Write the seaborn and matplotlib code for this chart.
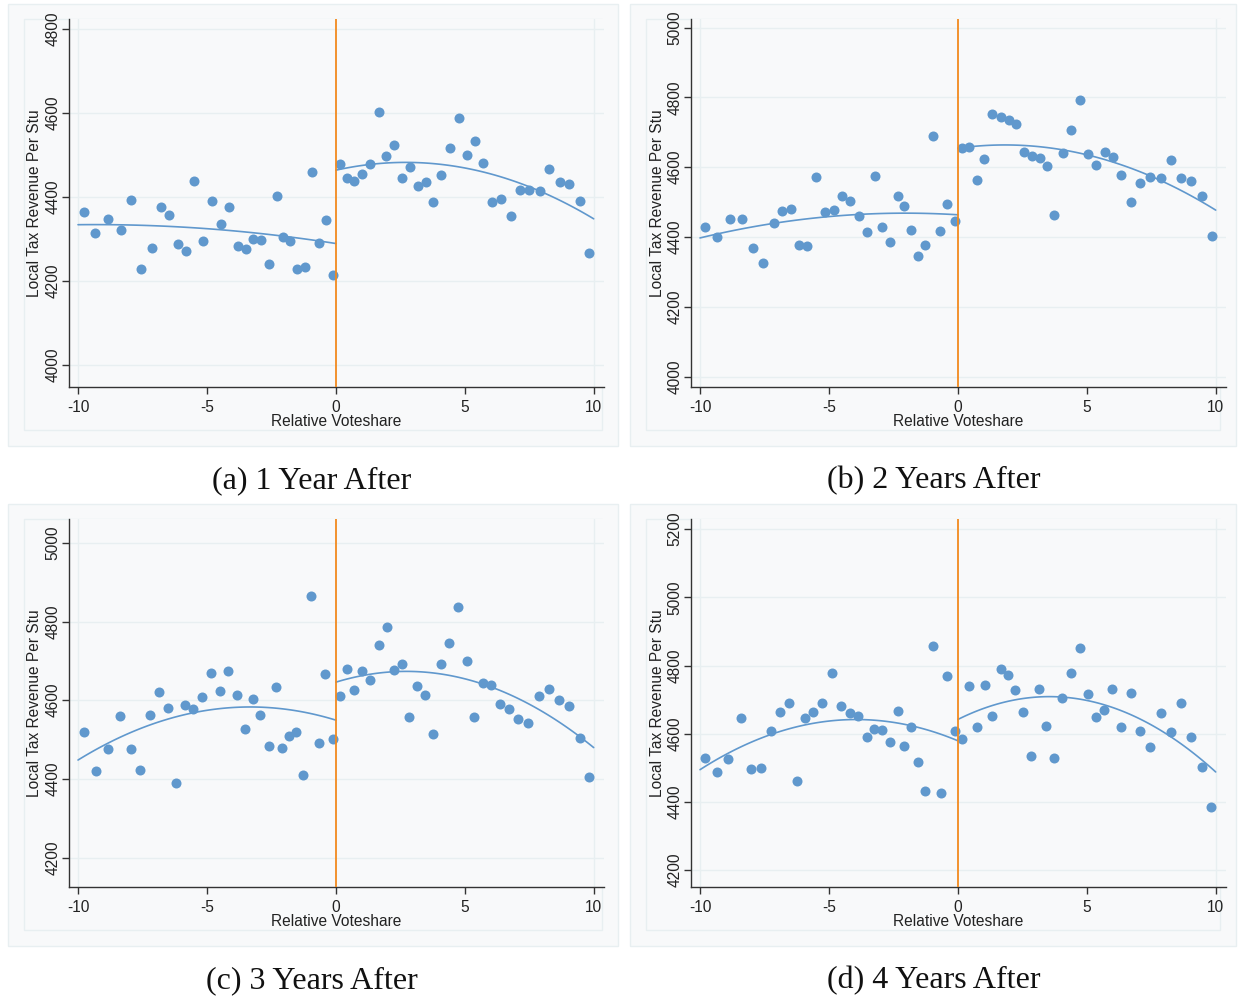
import numpy as np
import pandas as pd
import seaborn as sns
import matplotlib.pyplot as plt
from matplotlib.patches import Rectangle

# binned means (left side x<0, right side x>0)
a_x_left = [-9.77, -9.33, -8.84, -8.34, -7.93, -7.55, -7.14, -6.78, -6.46, -6.14,
            -5.81, -5.50, -5.14, -4.79, -4.45, -4.14, -3.81, -3.48, -3.21, -2.91,
            -2.60, -2.30, -2.04, -1.76, -1.50, -1.21, -0.93, -0.65, -0.39, -0.10]
a_y_left = [4364, 4314, 4348, 4321, 4394, 4228, 4279, 4377, 4358, 4288,
            4272, 4439, 4295, 4390, 4336, 4377, 4283, 4276, 4301, 4297,
            4240, 4402, 4304, 4295, 4229, 4234, 4460, 4291, 4345, 4214]
a_x_right = [0.16, 0.44, 0.72, 1.03, 1.34, 1.67, 1.96, 2.26, 2.57, 2.87,
             3.18, 3.48, 3.76, 4.08, 4.42, 4.77, 5.09, 5.40, 5.72, 6.05,
             6.41, 6.78, 7.13, 7.49, 7.92, 8.28, 8.68, 9.04, 9.46, 9.83]
a_y_right = [4480, 4446, 4439, 4455, 4480, 4603, 4498, 4523, 4445, 4472,
             4427, 4435, 4389, 4453, 4518, 4588, 4501, 4533, 4482, 4388,
             4396, 4355, 4417, 4418, 4415, 4467, 4435, 4431, 4390, 4268]

b_x_left = [-9.81, -9.34, -8.85, -8.36, -7.94, -7.55, -7.15, -6.82, -6.47, -6.17,
            -5.85, -5.52, -5.17, -4.81, -4.48, -4.17, -3.85, -3.51, -3.22, -2.93,
            -2.62, -2.33, -2.07, -1.81, -1.54, -1.27, -0.97, -0.68, -0.43, -0.13]
b_y_left = [4429, 4401, 4451, 4453, 4369, 4326, 4440, 4474, 4481, 4378,
            4373, 4571, 4473, 4477, 4517, 4502, 4459, 4414, 4576, 4430,
            4387, 4517, 4489, 4419, 4346, 4376, 4691, 4416, 4496, 4445]
b_x_right = [0.16, 0.44, 0.73, 1.02, 1.34, 1.66, 1.97, 2.27, 2.58, 2.86,
             3.17, 3.45, 3.74, 4.06, 4.40, 4.72, 5.06, 5.37, 5.70, 6.01,
             6.34, 6.72, 7.08, 7.44, 7.86, 8.25, 8.66, 9.04, 9.47, 9.84]
b_y_right = [4655, 4657, 4563, 4625, 4753, 4744, 4736, 4724, 4643, 4633,
             4626, 4603, 4464, 4640, 4708, 4794, 4639, 4606, 4645, 4628,
             4579, 4501, 4554, 4573, 4570, 4620, 4568, 4561, 4519, 4403]

c_x_left = [-9.77, -9.30, -8.84, -8.36, -7.96, -7.59, -7.20, -6.85, -6.50, -6.19,
            -5.85, -5.55, -5.19, -4.83, -4.50, -4.17, -3.85, -3.52, -3.23, -2.95,
            -2.61, -2.31, -2.07, -1.81, -1.54, -1.27, -0.97, -0.67, -0.41, -0.12]
c_y_left = [4518, 4421, 4475, 4559, 4476, 4422, 4563, 4622, 4581, 4390,
            4588, 4577, 4607, 4670, 4623, 4674, 4613, 4526, 4603, 4563,
            4484, 4633, 4478, 4510, 4519, 4411, 4866, 4491, 4668, 4501]
c_x_right = [0.16, 0.43, 0.71, 1.03, 1.34, 1.67, 1.97, 2.24, 2.56, 2.84,
             3.15, 3.45, 3.75, 4.07, 4.39, 4.73, 5.07, 5.36, 5.70, 6.00,
             6.36, 6.73, 7.08, 7.44, 7.87, 8.26, 8.64, 9.03, 9.45, 9.82]
c_y_right = [4612, 4680, 4625, 4675, 4652, 4741, 4786, 4678, 4693, 4558,
             4635, 4614, 4513, 4692, 4746, 4837, 4699, 4558, 4645, 4639,
             4591, 4578, 4552, 4541, 4611, 4629, 4600, 4586, 4503, 4405]

d_x_left = [-9.81, -9.36, -8.91, -8.42, -8.01, -7.63, -7.23, -6.89, -6.54, -6.25,
            -5.91, -5.60, -5.26, -4.90, -4.54, -4.19, -3.88, -3.54, -3.26, -2.96,
            -2.62, -2.31, -2.07, -1.81, -1.54, -1.27, -0.97, -0.67, -0.43, -0.13]
d_y_left = [4528, 4487, 4527, 4645, 4497, 4499, 4607, 4665, 4691, 4461,
            4646, 4663, 4689, 4778, 4682, 4661, 4652, 4590, 4613, 4611,
            4577, 4667, 4564, 4620, 4517, 4432, 4858, 4426, 4768, 4608]
d_x_right = [0.16, 0.42, 0.73, 1.04, 1.34, 1.66, 1.96, 2.23, 2.54, 2.82,
             3.13, 3.43, 3.73, 4.05, 4.37, 4.72, 5.06, 5.36, 5.68, 5.98,
             6.33, 6.72, 7.08, 7.44, 7.86, 8.25, 8.66, 9.04, 9.45, 9.82]
d_y_right = [4584, 4739, 4619, 4744, 4653, 4791, 4772, 4727, 4665, 4534,
             4731, 4622, 4530, 4706, 4778, 4850, 4716, 4648, 4669, 4731,
             4619, 4720, 4608, 4560, 4660, 4606, 4689, 4591, 4501, 4385]

captions = ["(a) 1 Year After", "(b) 2 Years After", "(c) 3 Years After", "(d) 4 Years After"]
y_ticks = [[4000, 4200, 4400, 4600, 4800],
           [4000, 4200, 4400, 4600, 4800, 5000],
           [4200, 4400, 4600, 4800, 5000],
           [4200, 4400, 4600, 4800, 5000, 5200]]
y_lims = [(3948, 4824), (3970, 5025), (4125, 5061), (4150, 5230)]

panels = [
    (a_x_left, a_y_left, a_x_right, a_y_right),
    (b_x_left, b_y_left, b_x_right, b_y_right),
    (c_x_left, c_y_left, c_x_right, c_y_right),
    (d_x_left, d_y_left, d_x_right, d_y_right),
]

sns.set_style("ticks")
plt.rcParams['font.family'] = ['Liberation Sans', 'DejaVu Sans']

W, H = 1238, 998
fig = plt.figure(figsize=(W / 100, H / 100), dpi=100)
fig.patch.set_facecolor('white')

blue = '#6098cd'
orange = '#f28a1e'
bg = '#f8f9fa'
faint = '#e8eff1'
fs = 11.2

# pixel boxes: (left, top, right, bottom)
axes_px = [(69, 19, 604, 387), (691, 19, 1226, 387),
           (69, 519, 604, 887), (691, 519, 1226, 887)]
outer_px = [(8, 4, 618, 446), (630, 4, 1236, 446),
            (8, 504, 618, 946), (630, 504, 1236, 946)]
cap_px = [(312, 481), (934, 481), (312, 981), (934, 981)]

for i, (xl, yl, xr, yr) in enumerate(panels):
    ol, ot, orr, ob = outer_px[i]
    fig.patches.append(Rectangle((ol / W, 1 - ob / H), (orr - ol) / W, (ob - ot) / H,
                                 transform=fig.transFigure, facecolor=bg,
                                 edgecolor=faint, lw=1, zorder=-2))
    fig.patches.append(Rectangle(((ol + 16) / W, 1 - (ob - 16) / H), (orr - ol - 32) / W,
                                 (ob - ot - 31) / H, transform=fig.transFigure,
                                 facecolor='none', edgecolor=faint, lw=1, zorder=-1))

    l, t, r, b = axes_px[i]
    ax = fig.add_axes([l / W, 1 - b / H, (r - l) / W, (b - t) / H])
    ax.set_facecolor(bg)
    ax.set_zorder(1)

    for yt in y_ticks[i]:
        ax.axhline(yt, color=faint, lw=1, zorder=0)
    ax.axvline(-10, color=faint, lw=1, zorder=0)
    ax.axvline(10, color=faint, lw=1, zorder=0)

    df = pd.DataFrame({'x': xl + xr, 'y': yl + yr})
    sns.scatterplot(data=df, x='x', y='y', ax=ax, color=blue, s=52,
                    linewidth=0, zorder=3)

    # quadratic fit on each side of the cutoff
    for xs, ys, lo, hi in [(xl, yl, -10, 0), (xr, yr, 0, 10)]:
        coef = np.polyfit(xs, ys, 2)
        gx = np.linspace(lo, hi, 100)
        ax.plot(gx, np.polyval(coef, gx), color=blue, lw=1.2, zorder=2)

    ax.axvline(0, color=orange, lw=1.3, zorder=4)

    ax.set_xlim(-10.35, 10.4)
    ax.set_ylim(*y_lims[i])
    ax.set_xticks([-10, -5, 0, 5, 10])
    ax.set_xticklabels(['-10', '-5', '0', '5', '10'])
    ax.set_yticks(y_ticks[i])
    ax.tick_params(axis='both', labelsize=fs, length=5, width=1,
                   color='#333333', labelcolor='#222222')
    ax.tick_params(axis='x', pad=4)
    ax.tick_params(axis='y', pad=1)
    plt.setp(ax.get_yticklabels(), rotation=90, va='center')

    for s in ['top', 'right']:
        ax.spines[s].set_visible(False)
    for s in ['left', 'bottom']:
        ax.spines[s].set_color('#333333')
        ax.spines[s].set_linewidth(1)

    ax.set_xlabel('Relative Voteshare', fontsize=fs, color='#222222', va='center')
    ax.xaxis.set_label_coords(0.5, -34 / (b - t))
    ax.set_ylabel('Local Tax Revenue Per Stu', fontsize=fs, color='#222222', va='center')
    ax.yaxis.set_label_coords(-(l - (ol + 27)) / (r - l), 0.5)

    cx, cy = cap_px[i]
    fig.text(cx / W, 1 - cy / H, captions[i], ha='center', va='center',
             fontsize=23, family=['Liberation Serif', 'DejaVu Serif'], color='#111111')

fig.savefig('out.png', dpi=100, facecolor='white')
